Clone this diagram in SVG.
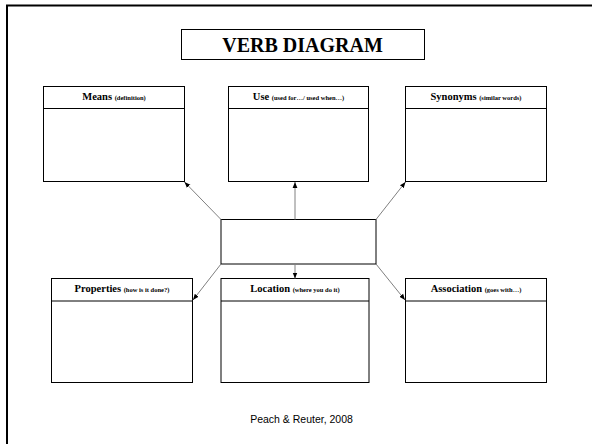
<svg xmlns="http://www.w3.org/2000/svg" width="592" height="444" viewBox="0 0 592 444">
<defs>
<style>
.box{fill:#fff;stroke:#000;stroke-width:1}
.hl{stroke:#000;stroke-width:1}
.h{font-family:"Liberation Serif",serif;font-weight:bold;font-size:10.5px;text-anchor:middle;fill:#000}
.s{font-size:6.5px}
.c{stroke:#808080;stroke-width:1;fill:none;marker-end:url(#ah)}
</style>
<marker id="ah" viewBox="0 0 10 10" refX="10" refY="5" markerWidth="6" markerHeight="6" markerUnits="userSpaceOnUse" orient="auto">
<path d="M0,1 L10,5 L0,9 z" fill="#000"/>
</marker>
</defs>
<rect width="592" height="444" fill="#fff"/>
<g id="frame">
<line x1="6" y1="5.5" x2="592" y2="5.5" stroke="#000" stroke-width="2"/>
<line x1="7" y1="5" x2="7" y2="444" stroke="#000" stroke-width="2"/>
</g>
<g id="title">
<rect x="181.5" y="29.5" width="243" height="30" class="box"/>
<text x="302.5" y="52" font-family="Liberation Serif,serif" font-weight="bold" font-size="20" text-anchor="middle">VERB DIAGRAM</text>
</g>
<g id="means">
<rect x="43.5" y="86.5" width="141" height="95" class="box"/>
<line x1="43.5" y1="108.5" x2="184.5" y2="108.5" class="hl"/>
<text x="114" y="99.5" class="h">Means <tspan class="s">(definition)</tspan></text>
</g>
<g id="use">
<rect x="228.5" y="86.5" width="140" height="95" class="box"/>
<line x1="228.5" y1="108.5" x2="368.5" y2="108.5" class="hl"/>
<text x="298.5" y="99.5" class="h">Use <tspan class="s">(used for…/ used when…)</tspan></text>
</g>
<g id="synonyms">
<rect x="405.5" y="86.5" width="141" height="95" class="box"/>
<line x1="405.5" y1="108.5" x2="546.5" y2="108.5" class="hl"/>
<text x="476" y="99.5" class="h">Synonyms <tspan class="s">(similar words)</tspan></text>
</g>
<g id="verb">
<rect x="221" y="219.5" width="155" height="44.5" class="box"/>
</g>
<g id="properties">
<rect x="51.5" y="278.5" width="141" height="104" class="box"/>
<line x1="51.5" y1="301" x2="192.5" y2="301" class="hl"/>
<text x="122" y="291.5" class="h">Properties <tspan class="s">(how is it done?)</tspan></text>
</g>
<g id="location">
<rect x="221" y="278.5" width="148" height="104" class="box"/>
<line x1="221" y1="301" x2="369" y2="301" class="hl"/>
<text x="295" y="291.5" class="h">Location <tspan class="s">(where you do it)</tspan></text>
</g>
<g id="association">
<rect x="405.5" y="278.5" width="141" height="104" class="box"/>
<line x1="405.5" y1="301" x2="546.5" y2="301" class="hl"/>
<text x="476" y="291.5" class="h">Association <tspan class="s">(goes with…)</tspan></text>
</g>
<g id="connectors">
<line x1="221" y1="219.5" x2="184.5" y2="182" class="c"/>
<line x1="295" y1="219.5" x2="295" y2="182" class="c"/>
<line x1="376" y1="219.5" x2="405.5" y2="182" class="c"/>
<line x1="221" y1="264" x2="193" y2="300" class="c"/>
<line x1="295" y1="264" x2="295" y2="278.5" class="c"/>
<line x1="376" y1="264" x2="405" y2="300" class="c"/>
</g>
<text x="301.5" y="423" font-family="Liberation Sans,Arial,sans-serif" font-size="10.5" text-anchor="middle">Peach &amp; Reuter, 2008</text>
</svg>
